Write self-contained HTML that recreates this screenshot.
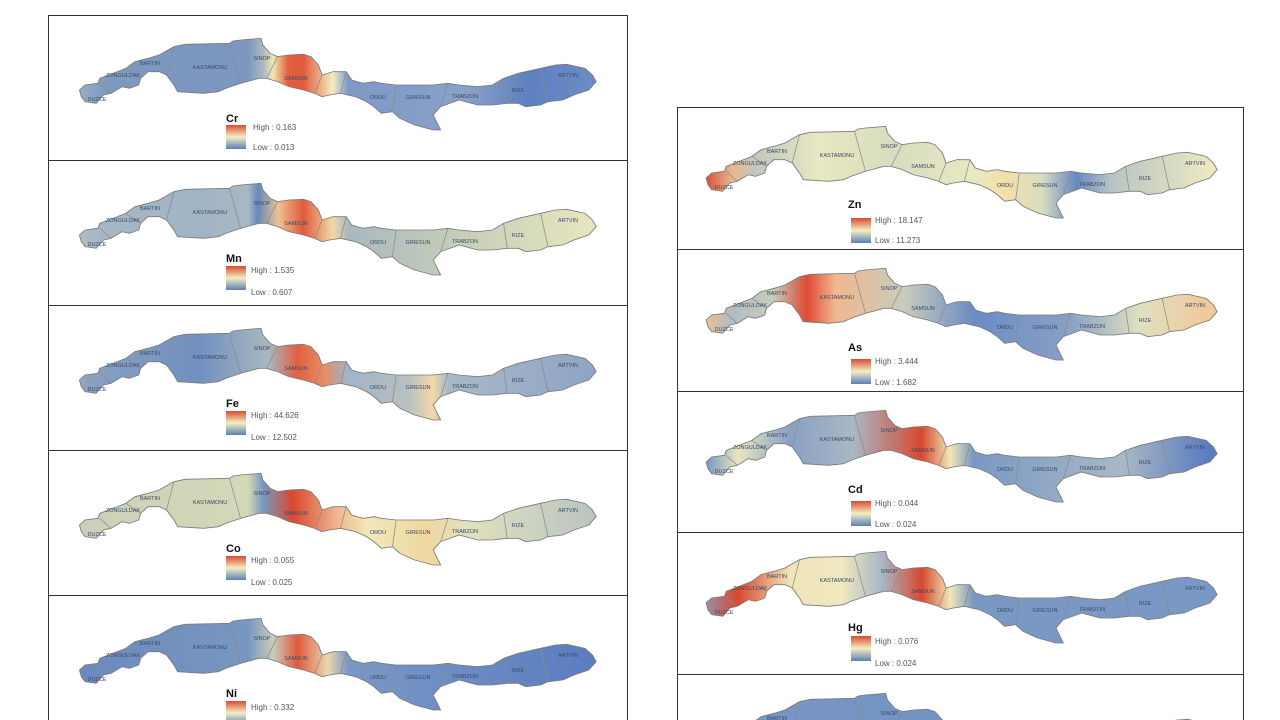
<!DOCTYPE html>
<html><head><meta charset="utf-8"><style>
html,body{margin:0;padding:0;background:#fff;width:1280px;height:720px;overflow:hidden;}
svg{display:block}
text{font-family:"Liberation Sans",sans-serif;}
.pl{font-size:5.5px;fill:#3a4a66;text-anchor:middle}
.el{font-size:11px;font-weight:bold;fill:#111}
.lg{font-size:8px;fill:#555}
</style></head><body>
<svg width="1280" height="720" viewBox="0 0 1280 720" xmlns="http://www.w3.org/2000/svg">
<defs>
<path id="m" d="M85,225 L100,210 135,205 140,190 175,175 210,160 235,140 270,130 300,120 340,95 370,88 490,85 500,78 520,75 575,70 580,90 600,115 620,125 650,120 690,118 710,125 730,150 740,180 770,170 805,170 820,195 850,205 880,200 900,205 940,210 980,210 1040,210 1080,205 1110,210 1160,215 1200,210 1230,190 1270,175 1330,160 1370,150 1400,148 1450,160 1470,180 1480,200 1460,225 1420,240 1390,255 1350,260 1330,270 1290,275 1270,265 1240,265 1200,270 1160,270 1110,255 1060,275 1040,300 1060,345 1040,345 990,330 950,310 930,290 900,295 880,275 860,260 830,245 790,235 760,240 740,245 720,235 690,225 650,215 620,200 590,190 570,190 520,205 480,220 460,230 420,235 350,230 340,210 320,180 300,170 270,170 250,190 245,210 220,220 200,215 170,235 150,240 130,265 100,260 90,245 Z"/>
<g id="b" fill="none" stroke="#8a8a8a" stroke-width="2">
<path d="M140,205 L170,235"/><path d="M210,160 L250,190"/><path d="M340,95 L320,180"/><path d="M490,85 L520,205"/><path d="M620,125 L590,190"/><path d="M740,180 L720,235"/><path d="M805,170 L790,235"/><path d="M940,210 L930,290"/><path d="M1080,205 L1060,275"/><path d="M1230,190 L1240,265"/><path d="M1330,160 L1350,260"/>
</g>
<linearGradient id="lg" x1="0" y1="0" x2="0" y2="1"><stop offset="0" stop-color="#d94a32"/><stop offset=".5" stop-color="#f3efc4"/><stop offset="1" stop-color="#5b7fb6"/></linearGradient>
<linearGradient id="gCr" gradientUnits="userSpaceOnUse" x1="0" x2="1566" y1="0" y2="0"><stop offset="0" stop-color="#b8c2c8"/><stop offset=".103" stop-color="#7d99c0"/><stop offset=".345" stop-color="#7d97c0"/><stop offset=".371" stop-color="#aab8c0"/><stop offset=".388" stop-color="#f0e8b0"/><stop offset=".414" stop-color="#e06040"/><stop offset=".44" stop-color="#e05a3c"/><stop offset=".491" stop-color="#f4eec0"/><stop offset=".517" stop-color="#7d9ac8"/><stop offset=".724" stop-color="#8aa0c8"/><stop offset=".828" stop-color="#5d80c0"/><stop offset=".948" stop-color="#6d8cc4"/></linearGradient>
<linearGradient id="gMn" gradientUnits="userSpaceOnUse" x1="0" x2="1566" y1="0" y2="0"><stop offset="0" stop-color="#e8e4b8"/><stop offset=".07" stop-color="#a8b8c4"/><stop offset=".26" stop-color="#a0b4c4"/><stop offset=".345" stop-color="#a8b8c4"/><stop offset=".362" stop-color="#6688bb"/><stop offset=".397" stop-color="#f0c090"/><stop offset=".44" stop-color="#e05a3c"/><stop offset=".491" stop-color="#f0d8a8"/><stop offset=".517" stop-color="#aab8c0"/><stop offset=".724" stop-color="#c8d0b8"/><stop offset=".948" stop-color="#e8e6c0"/></linearGradient>
<linearGradient id="gFe" gradientUnits="userSpaceOnUse" x1="0" x2="1566" y1="0" y2="0"><stop offset="0" stop-color="#c8ccc0"/><stop offset=".07" stop-color="#8aa0c0"/><stop offset=".26" stop-color="#7090c0"/><stop offset=".38" stop-color="#a8b8c0"/><stop offset=".43" stop-color="#e06040"/><stop offset=".474" stop-color="#e88a60"/><stop offset=".517" stop-color="#a0b4c8"/><stop offset=".62" stop-color="#b8c0c0"/><stop offset=".664" stop-color="#f0d8a8"/><stop offset=".69" stop-color="#a8b8c8"/><stop offset=".948" stop-color="#8ea4c4"/></linearGradient>
<linearGradient id="gCo" gradientUnits="userSpaceOnUse" x1="0" x2="1566" y1="0" y2="0"><stop offset="0" stop-color="#c8ccbc"/><stop offset=".17" stop-color="#d0d4b8"/><stop offset=".345" stop-color="#d4d8b8"/><stop offset=".371" stop-color="#7898c0"/><stop offset=".422" stop-color="#d84830"/><stop offset=".5" stop-color="#f0b890"/><stop offset=".552" stop-color="#f0e8b8"/><stop offset=".655" stop-color="#f0d8a0"/><stop offset=".724" stop-color="#e0e0c0"/><stop offset=".948" stop-color="#b8c4c0"/></linearGradient>
<linearGradient id="gNi" gradientUnits="userSpaceOnUse" x1="0" x2="1566" y1="0" y2="0"><stop offset="0" stop-color="#6888c0"/><stop offset=".345" stop-color="#7896c0"/><stop offset=".388" stop-color="#c8ccbc"/><stop offset=".43" stop-color="#e05a3c"/><stop offset=".483" stop-color="#e8d8b0"/><stop offset=".517" stop-color="#7a98c4"/><stop offset=".948" stop-color="#5a7cc0"/></linearGradient>
<linearGradient id="gZn" gradientUnits="userSpaceOnUse" x1="0" x2="1566" y1="0" y2="0"><stop offset=".05" stop-color="#d84830"/><stop offset=".1" stop-color="#e8b890"/><stop offset=".14" stop-color="#c0c8c0"/><stop offset=".25" stop-color="#e8e8c0"/><stop offset=".38" stop-color="#d8dcc0"/><stop offset=".52" stop-color="#e8e8c4"/><stop offset=".57" stop-color="#f4e0a8"/><stop offset=".64" stop-color="#d8dcc0"/><stop offset=".7" stop-color="#6888c0"/><stop offset=".76" stop-color="#b8c4c4"/><stop offset=".948" stop-color="#f0ecc0"/></linearGradient>
<linearGradient id="gAs" gradientUnits="userSpaceOnUse" x1="0" x2="1566" y1="0" y2="0"><stop offset=".05" stop-color="#f0c090"/><stop offset=".1" stop-color="#b0bcc4"/><stop offset=".17" stop-color="#c8ccbc"/><stop offset=".23" stop-color="#e04a34"/><stop offset=".28" stop-color="#f0b890"/><stop offset=".4" stop-color="#c8ccbc"/><stop offset=".52" stop-color="#6a8cc4"/><stop offset=".69" stop-color="#8aa0c4"/><stop offset=".81" stop-color="#e0e0c0"/><stop offset=".93" stop-color="#f0c89a"/></linearGradient>
<linearGradient id="gCd" gradientUnits="userSpaceOnUse" x1="0" x2="1566" y1="0" y2="0"><stop offset=".05" stop-color="#7090c0"/><stop offset=".11" stop-color="#e8e6c0"/><stop offset=".2" stop-color="#8aa0c4"/><stop offset=".31" stop-color="#a8b8c4"/><stop offset=".43" stop-color="#d84830"/><stop offset=".48" stop-color="#f0e8b8"/><stop offset=".52" stop-color="#7a98c4"/><stop offset=".78" stop-color="#a8b8c4"/><stop offset=".93" stop-color="#5a7cc0"/></linearGradient>
<linearGradient id="gHg" gradientUnits="userSpaceOnUse" x1="0" x2="1566" y1="0" y2="0"><stop offset=".04" stop-color="#8aa0c4"/><stop offset=".11" stop-color="#d84830"/><stop offset=".2" stop-color="#f0e4b8"/><stop offset=".29" stop-color="#f0e8c0"/><stop offset=".36" stop-color="#a8b8c4"/><stop offset=".43" stop-color="#d84830"/><stop offset=".48" stop-color="#f0e8b8"/><stop offset=".52" stop-color="#7a98c4"/><stop offset=".93" stop-color="#7a98c4"/></linearGradient>
<linearGradient id="gX" gradientUnits="userSpaceOnUse" x1="0" x2="1566" y1="0" y2="0"><stop offset="0" stop-color="#7a98c4"/><stop offset="1" stop-color="#6a8cc4"/></linearGradient>
<g id="labels">
<text class="pl" x="49" y="86">DUZCE</text><text class="pl" x="75" y="62">ZONGULDAK</text><text class="pl" x="102" y="50">BARTIN</text><text class="pl" x="162" y="54">KASTAMONU</text><text class="pl" x="214" y="45">SINOP</text><text class="pl" x="248" y="65">SAMSUN</text><text class="pl" x="330" y="84">ORDU</text><text class="pl" x="370" y="84">GIRESUN</text><text class="pl" x="417" y="83">TRABZON</text><text class="pl" x="470" y="77">RIZE</text><text class="pl" x="520" y="62">ARTVIN</text>
</g>
</defs>
<g fill="none" stroke="#333" stroke-width="1">
<rect x="48.5" y="15.5" width="579" height="145"/><rect x="48.5" y="160.5" width="579" height="145"/><rect x="48.5" y="305.5" width="579" height="145"/><rect x="48.5" y="450.5" width="579" height="145"/><rect x="48.5" y="595.5" width="579" height="140"/>
<rect x="677.5" y="107.5" width="566" height="142"/><rect x="677.5" y="249.5" width="566" height="142"/><rect x="677.5" y="391.5" width="566" height="141"/><rect x="677.5" y="532.5" width="566" height="142"/><rect x="677.5" y="674.5" width="566" height="60"/>
</g>
<g transform="translate(48,15)"><g transform="scale(0.37037 0.33333)"><use href="#m" fill="url(#gCr)" stroke="#7a7a7a" stroke-width="2.5"/><use href="#b"/></g><use href="#labels"/><text class="el" x="178" y="107">Cr</text><rect x="178" y="110" width="20" height="24" fill="url(#lg)"/><text class="lg" x="205" y="115">High : 0.163</text><text class="lg" x="205" y="135">Low : 0.013</text></g>
<g transform="translate(48,160)"><g transform="scale(0.37037 0.33333)"><use href="#m" fill="url(#gMn)" stroke="#7a7a7a" stroke-width="2.5"/><use href="#b"/></g><use href="#labels"/><text class="el" x="178" y="102">Mn</text><rect x="178" y="106" width="20" height="24" fill="url(#lg)"/><text class="lg" x="203" y="113">High : 1.535</text><text class="lg" x="203" y="135">Low : 0.607</text></g>
<g transform="translate(48,305)"><g transform="scale(0.37037 0.33333)"><use href="#m" fill="url(#gFe)" stroke="#7a7a7a" stroke-width="2.5"/><use href="#b"/></g><use href="#labels"/><text class="el" x="178" y="102">Fe</text><rect x="178" y="106" width="20" height="24" fill="url(#lg)"/><text class="lg" x="203" y="113">High : 44.626</text><text class="lg" x="203" y="135">Low : 12.502</text></g>
<g transform="translate(48,450)"><g transform="scale(0.37037 0.33333)"><use href="#m" fill="url(#gCo)" stroke="#7a7a7a" stroke-width="2.5"/><use href="#b"/></g><use href="#labels"/><text class="el" x="178" y="102">Co</text><rect x="178" y="106" width="20" height="24" fill="url(#lg)"/><text class="lg" x="203" y="113">High : 0.055</text><text class="lg" x="203" y="135">Low : 0.025</text></g>
<g transform="translate(48,595)"><g transform="scale(0.37037 0.33333)"><use href="#m" fill="url(#gNi)" stroke="#7a7a7a" stroke-width="2.5"/><use href="#b"/></g><use href="#labels"/><text class="el" x="178" y="102">Ni</text><rect x="178" y="106" width="20" height="24" fill="url(#lg)"/><text class="lg" x="203" y="115">High : 0.332</text></g>
<g transform="translate(675,103)"><g transform="scale(0.3663 0.33333)"><use href="#m" fill="url(#gZn)" stroke="#7a7a7a" stroke-width="2.5"/><use href="#b"/></g><use href="#labels"/><text class="el" x="173" y="105">Zn</text><rect x="176" y="115" width="20" height="25" fill="url(#lg)"/><text class="lg" x="200" y="120">High : 18.147</text><text class="lg" x="200" y="140">Low : 11.273</text></g>
<g transform="translate(675,245)"><g transform="scale(0.3663 0.33333)"><use href="#m" fill="url(#gAs)" stroke="#7a7a7a" stroke-width="2.5"/><use href="#b"/></g><use href="#labels"/><text class="el" x="173" y="106">As</text><rect x="176" y="114" width="20" height="25" fill="url(#lg)"/><text class="lg" x="200" y="119">High : 3.444</text><text class="lg" x="200" y="140">Low : 1.682</text></g>
<g transform="translate(675,387)"><g transform="scale(0.3663 0.33333)"><use href="#m" fill="url(#gCd)" stroke="#7a7a7a" stroke-width="2.5"/><use href="#b"/></g><use href="#labels"/><text class="el" x="173" y="106">Cd</text><rect x="176" y="114" width="20" height="25" fill="url(#lg)"/><text class="lg" x="200" y="119">High : 0.044</text><text class="lg" x="200" y="140">Low : 0.024</text></g>
<g transform="translate(675,528)"><g transform="scale(0.3663 0.33333)"><use href="#m" fill="url(#gHg)" stroke="#7a7a7a" stroke-width="2.5"/><use href="#b"/></g><use href="#labels"/><text class="el" x="173" y="103">Hg</text><rect x="176" y="108" width="20" height="25" fill="url(#lg)"/><text class="lg" x="200" y="116">High : 0.076</text><text class="lg" x="200" y="138">Low : 0.024</text></g>
<g transform="translate(675,670)"><g transform="scale(0.3663 0.33333)"><use href="#m" fill="url(#gX)" stroke="#7a7a7a" stroke-width="2.5"/><use href="#b"/></g><use href="#labels"/></g>
</svg>
</body></html>
